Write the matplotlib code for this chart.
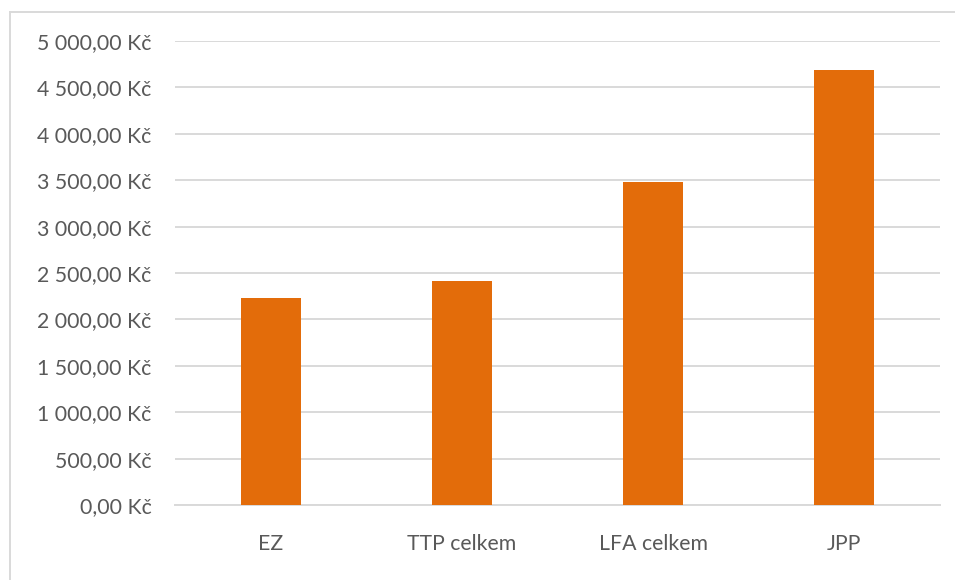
import matplotlib.pyplot as plt
from matplotlib.lines import Line2D

categories = ['EZ', 'TTP celkem', 'LFA celkem', 'JPP']
values = [2234, 2417, 3485, 4688]
yticks = [0, 500, 1000, 1500, 2000, 2500, 3000, 3500, 4000, 4500, 5000]


def fmt(v):
    return '{:,.2f}'.format(v).replace(',', ' ').replace('.', ',') + ' Kč'


plt.rcParams['font.family'] = ['Lato', 'DejaVu Sans']

fig = plt.figure(figsize=(9.55, 5.8), dpi=100)
# chart frame: only top and left edges visible (picture is cropped)
bx, by = 9.5 / 955, 1 - 11.5 / 580
fig.lines.append(Line2D([bx, 1], [by, by], transform=fig.transFigure,
                        color='#d9d9d9', linewidth=1.4))
fig.lines.append(Line2D([bx, bx], [0, by], transform=fig.transFigure,
                        color='#d9d9d9', linewidth=1.4))

ax = fig.add_axes([175 / 955, 75 / 580, 765 / 955, 464 / 580])

x = range(len(categories))
ax.bar(x, values, width=0.314, color='#E36C0A', zorder=3)

ax.set_xlim(-0.5, len(categories) - 0.5)
ax.set_ylim(0, 5000)
ax.set_yticks(yticks)
ax.set_yticklabels([fmt(v) for v in yticks])
ax.set_xticks(list(x))
ax.set_xticklabels(categories)
ax.grid(axis='y', color='#d9d9d9', linewidth=1.4, zorder=0)
ax.tick_params(axis='both', length=0, labelsize=15.3, labelcolor='#595959')
ax.tick_params(axis='y', pad=17)
ax.tick_params(axis='x', pad=21)
for s in ['top', 'right', 'left']:
    ax.spines[s].set_visible(False)
ax.spines['bottom'].set_color('#d9d9d9')
ax.spines['bottom'].set_linewidth(1.4)

fig.savefig('out.png', dpi=100)
